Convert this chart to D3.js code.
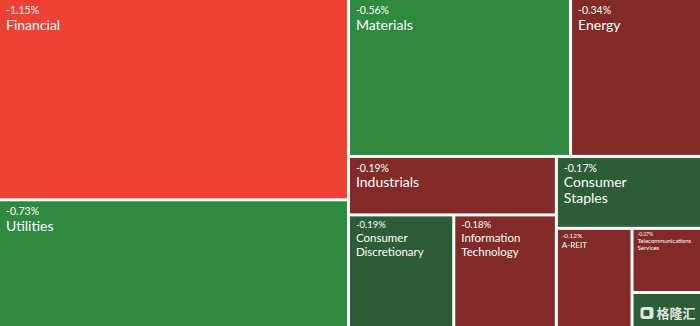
<!DOCTYPE html>
<html><head><meta charset="utf-8">
<script src="https://cdn.jsdelivr.net/npm/d3@7"></script>
<style>html,body{margin:0;padding:0;background:#fff;}svg{display:block;}</style>
</head><body>
<svg id="chart" width="700" height="326"></svg>
<script>
// ---- data ----
const sectors = ["Financial","Utilities","Materials","Energy","Industrials","Consumer Discretionary","Information Technology","Consumer Staples","A-REIT","Telecommunications Services","Health Care"];
const changes = ["-1.15%","-0.73%","-0.56%","-0.34%","-0.19%","-0.19%","-0.18%","-0.17%","-0.12%","-0.07%",""];
const weights = [69.5,44.1,34.6,20.4,12.0,11.7,11.4,10.3,7.4,4.4,2.4];

// ---- rendering ----
const W = 700, H = 326;
const leaf = i => ({name: sectors[i], change: changes[i], value: weights[i]});
// nested grouping that mirrors the slice/dice arrangement
const tree = {children: [
  {children: [leaf(0), leaf(1)]},
  {children: [
    {children: [leaf(2), leaf(3)]},
    {children: [
      {children: [leaf(4), {children: [leaf(5), leaf(6)]}]},
      {children: [leaf(7), {children: [leaf(8), {children: [leaf(9), leaf(10)]}]}]}
    ]}
  ]}
]};
const colorOf = {
  "Financial":"#EE4136",
  "Utilities":"#2F8A3F","Materials":"#2F8A3F",
  "Energy":"#812A27","Industrials":"#812A27","Information Technology":"#812A27","A-REIT":"#812A27","Telecommunications Services":"#812A27",
  "Consumer Staples":"#2D5D37","Consumer Discretionary":"#2D5D37","Health Care":"#2D5D37"
};
const root = d3.hierarchy(tree).sum(d => d.value || 0);
d3.treemap().size([W, H]).tile(d3.treemapSliceDice).paddingInner(3)(root);

const svg = d3.select("#chart");
svg.append("rect").attr("width", W).attr("height", H).attr("fill", "#fff");
const font = "Lato, 'Open Sans', sans-serif";
const cells = svg.selectAll("g.cell").data(root.leaves()).join("g").attr("class","cell")
  .attr("transform", d => `translate(${d.x0},${d.y0})`);
cells.append("rect")
  .attr("width", d => d.x1 - d.x0).attr("height", d => d.y1 - d.y0)
  .attr("fill", d => colorOf[d.data.name]);

function tier(d){
  const w = d.x1 - d.x0, h = d.y1 - d.y0;
  if (h < 40) return null;
  if (w >= 120) return {pf:10.5, po:14, nf:14, no:29.5, lh:16, x:6};
  if (w >= 90) return {pf:9.5, po:12, nf:11.5, no:26, lh:14, x:6};
  if (h >= 80) return {pf:6.5, po:8, nf:8, no:18, lh:9, x:4};
  return {pf:5, po:6, nf:6, no:13, lh:7, x:4};
}
cells.each(function(d){
  const t = tier(d); if (!t) return;
  const g = d3.select(this);
  g.append("text").attr("x", t.x).attr("y", t.po)
    .attr("font-family", font).attr("font-size", t.pf).attr("fill", "#fff")
    .text(d.data.change);
  const words = d.data.name.split(" ");
  const txt = g.append("text").attr("font-family", font).attr("font-size", t.nf).attr("fill", "#fff");
  words.forEach((wd, i) => txt.append("tspan").attr("x", t.x).attr("y", t.no + i * t.lh).text(wd));
});

// watermark in the last cell
const last = root.leaves()[root.leaves().length - 1];
const wm = svg.append("g").attr("opacity", 0.85)
  .attr("transform", `translate(${last.x0 + 7},${last.y0 + 13})`);
wm.append("rect").attr("x", 0).attr("y", 0).attr("width", 13).attr("height", 12).attr("rx", 3).attr("fill", "#fff");
wm.append("rect").attr("x", 3).attr("y", 3).attr("width", 6).attr("height", 6).attr("rx", 1).attr("fill", "#2D5D37");
wm.append("text").attr("x", 16).attr("y", 11.5).attr("font-family", "'Noto Sans CJK SC', sans-serif")
  .attr("font-size", 13).attr("font-weight", "bold").attr("fill", "#fff").text("格隆汇");
</script>
</body></html>
